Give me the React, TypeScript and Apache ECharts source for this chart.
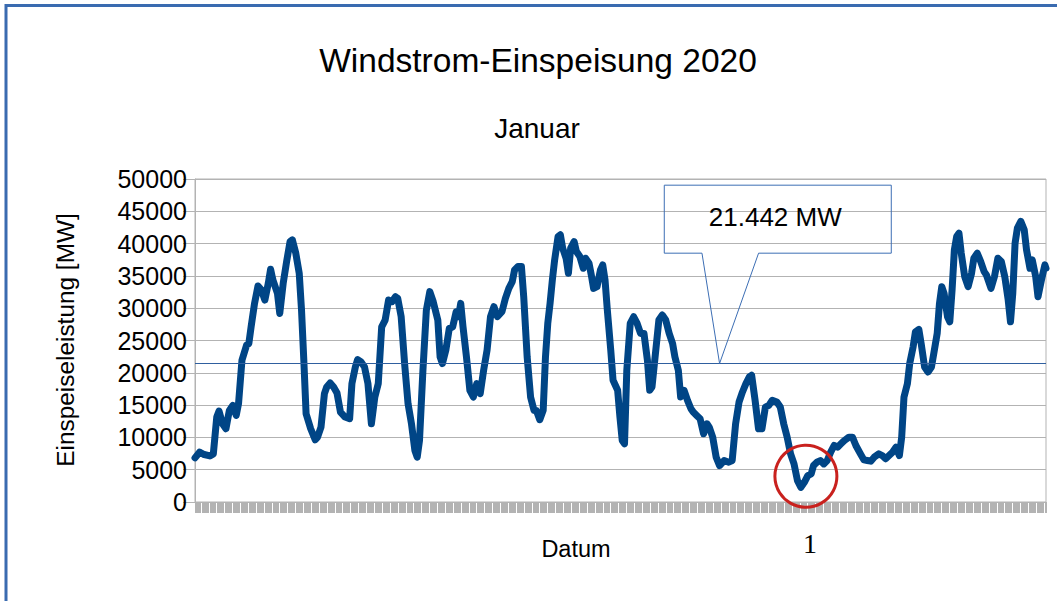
import { useEffect, useRef } from "react";
import * as echarts from "echarts";

// Hour of January 2020 (0 = 1 Jan 00:00) and wind power feed-in in MW
const hours = [
  0, 4, 8, 13, 16, 19, 21, 24, 27, 30, 33, 36, 38, 41, 45, 47, 49, 52, 55, 58, 61, 64, 66, 68, 72, 74, 77, 80, 83, 85,
  88, 91, 93, 95, 97, 101, 105, 107, 110, 113, 115, 118, 121, 124, 127, 131, 135, 137, 140, 142, 145, 148,
  151, 154, 157, 160, 163, 166, 169, 172, 175, 177, 180, 183, 186, 189, 192, 194, 196, 199, 202, 205, 208, 212, 214, 216,
  219, 222, 225, 228, 230, 232, 234, 237, 240, 243, 246, 249, 252, 255, 258, 261, 264, 268, 271, 274, 277, 279, 282, 285,
  287, 290, 293, 296,
  298, 301, 304, 306, 308, 310, 312, 314, 317, 319, 321, 324, 326, 328, 331, 333, 336, 339, 341, 344, 346, 348, 351, 354,
  356, 358, 360, 363, 365, 369, 371, 373, 375, 377, 380, 383, 386, 389, 392, 395, 397, 399, 402, 405, 408, 411, 414, 417,
  419, 422, 424, 427, 430, 433, 435, 438, 441, 444,
  447, 449, 452, 455, 458, 462, 466, 469, 472, 475, 478, 481, 484, 486, 489, 492, 495, 498, 501, 504, 508, 511, 514, 517,
  520, 523, 526, 529, 532, 535, 538, 540, 543, 546, 549, 552, 555, 558, 561, 564, 567, 571, 574, 577, 581, 584, 587, 590, 593,
  597, 600, 603, 606, 609, 612, 615, 617, 619, 622, 624, 627, 629, 632, 634, 637, 640, 643, 645, 648, 650, 652, 654, 657,
  659, 661, 663, 665, 667, 669, 672, 675, 678, 680, 683, 686, 689, 691, 695, 698, 701, 704, 707, 710, 712, 714, 716, 718,
  721, 724, 726, 729, 731, 734, 736, 739, 742, 743,
];

const power = [
  6830, 7710, 7350, 7140, 7450, 13150, 14080, 12110, 11340, 14180, 14960, 13400, 15220, 21950, 24280, 24530, 27120, 30750,
  33440, 32800, 31260, 33850, 36020, 34370, 32300, 29190, 33850, 37220, 40320, 40580, 38510, 35400, 29710, 21950, 13660,
  11340, 9630, 10040, 11590, 16770, 17800, 18430, 17800, 16870, 13920, 13150, 12890, 18320, 20910, 22050, 21690, 20910,
  18320, 12110, 16250, 18320, 27120, 28160, 31260, 31000, 31780, 31520, 28680, 21430, 15220, 12110, 7970, 6940, 9520,
  20390, 29710, 32560, 31000, 28160, 22460, 21430, 23500, 26860, 27120, 29450, 28680, 30750, 27120, 22460, 17290, 16250,
  18320, 16770, 20390, 23500, 28680, 30230, 28680, 29450, 31520, 33070, 34110, 35920, 36440, 36440, 31780, 22460, 16250,
  14180,
  14180, 12730, 14180, 22460, 27640, 30750, 34370, 37470, 41100, 41360, 39290, 37730, 35400, 39290, 40320, 38770, 37990,
  36180, 37730, 36960, 35140, 33070, 33330, 35920, 36700, 34370, 29710, 23500, 18840, 17290, 13150, 9520, 9010, 20390,
  27640, 28680, 27640, 26090, 26090, 21950, 17290, 17800, 22980, 28160, 28940, 28160, 26090, 24530, 22460, 20390, 16250,
  17290, 15740, 14440, 13920, 13400, 12890, 10560,
  12110, 11590, 10040, 6940, 5640, 6420, 6160, 6420, 12110, 15480, 17030, 18320, 19360, 19620, 15740, 11340, 11340, 14700,
  14960, 15740, 15480, 14700, 12110, 10040, 7450, 5900, 3310, 2280, 3050, 4090, 4350, 5640, 6160, 6420, 5900, 6420, 7710,
  8750, 8490, 9010, 9520, 10040, 10040, 8750, 7450, 6520, 6420, 6320, 6940,
  7450, 7190, 6680, 7190, 7710, 8490, 7190, 10040, 16250, 18320, 21430, 24020, 26350, 26710, 24530, 20910, 20130, 20910,
  22980, 26090, 30750, 33330, 32300, 28680, 27900, 32820, 39030, 41100, 41620, 38510, 34890, 33330, 35400, 37730, 38510,
  37220, 35660, 35140, 33070, 34890, 37730, 37220, 34890, 31260, 27900, 32300, 40060, 42390, 43430, 42130, 39030, 36180,
  37470, 34890, 31780, 34370, 36700, 36180,
];

const MEAN_MW = 21442;
const CALLOUT_HOUR = 458;
const TITLE = "Windstrom-Einspeisung 2020";
const SUBTITLE = "Januar";
const X_NAME = "Datum";
const Y_NAME = "Einspeiseleistung [MW]";
const MEAN_LABEL = "21.442 MW";
const MARKER_LABEL = "1";

const SANS = "'Liberation Sans', Arial, sans-serif";
const SERIF = "'Liberation Serif', 'Times New Roman', serif";

export default function App() {
  const ref = useRef<HTMLDivElement>(null);

  useEffect(() => {
    document.body.style.margin = "0";
    const chart = echarts.init(ref.current!, null, { renderer: "svg" });
    const data = hours.map((h, i) => [h, power[i]]);

    chart.setOption({
      animation: false,
      grid: {
        left: 195,
        right: 11,
        top: 179,
        bottom: 99,
        show: true,
        borderColor: "#b3b3b3",
        borderWidth: 1,
        backgroundColor: "transparent",
      },
      xAxis: {
        type: "value",
        min: 0,
        max: 743,
        interval: 1,
        axisLine: { show: true, lineStyle: { color: "#b3b3b3", width: 1 } },
        axisTick: { show: true, length: 11, lineStyle: { color: "#b3b3b3", width: 1 } },
        axisLabel: { show: false },
        splitLine: { show: false },
      },
      yAxis: {
        type: "value",
        min: 0,
        max: 50000,
        interval: 5000,
        axisLine: { show: true, lineStyle: { color: "#b3b3b3", width: 1 } },
        axisTick: { show: true, length: 12, lineStyle: { color: "#b3b3b3" } },
        axisLabel: {
          color: "#000",
          fontSize: 25,
          fontFamily: SANS,
          margin: 8,
          formatter: (v: number) => String(v),
        },
        splitLine: { show: true, lineStyle: { color: "#b3b3b3", width: 1 } },
      },
      series: [
        {
          type: "line",
          data,
          showSymbol: false,
          symbol: "none",
          lineStyle: { color: "#004586", width: 7, join: "round", cap: "round" },
          z: 3,
          markLine: {
            silent: true,
            symbol: "none",
            label: { show: false },
            lineStyle: { color: "#2f5f9f", width: 1, type: "solid" },
            data: [{ yAxis: MEAN_MW }],
          },
        },
      ],
    });

    const apex = chart.convertToPixel({ gridIndex: 0 }, [CALLOUT_HOUR, MEAN_MW]) as number[];
    let iMin = 0;
    power.forEach((v, i) => {
      if (v < power[iMin]) iMin = i;
    });
    const mp = chart.convertToPixel({ gridIndex: 0 }, [hours[iMin], power[iMin]]) as number[];
    const ax = apex[0];
    const ay = apex[1];

    const txt = (
      text: string,
      x: number,
      y: number,
      fontSize: number,
      extra: Record<string, unknown> = {},
      family = SANS
    ) => ({
      type: "text",
      x,
      y,
      silent: true,
      ...extra,
      style: {
        text,
        fill: "#000",
        fontSize,
        fontFamily: family,
        align: "center",
        verticalAlign: "middle",
        textAlign: "center",
        textVerticalAlign: "middle",
      },
    });

    chart.setOption({
      graphic: [
        {
          type: "rect",
          silent: true,
          shape: { x: 6, y: 5.5, width: 1200, height: 800 },
          style: { fill: "none", stroke: "#3a6bb0", lineWidth: 3 },
        },
        txt(TITLE, 538, 60, 33.5),
        txt(SUBTITLE, 537, 128, 28),
        txt(X_NAME, 576, 549, 23.5),
        txt(Y_NAME, 65, 340, 24.4, { rotation: Math.PI / 2 }),
        {
          type: "polygon",
          silent: true,
          shape: {
            points: [
              [ax - 55.3, ay - 178.3],
              [ax + 171.7, ay - 178.3],
              [ax + 171.7, ay - 110.3],
              [ax + 39, ay - 110.3],
              [ax, ay],
              [ax - 17.6, ay - 110.3],
              [ax - 55.3, ay - 110.3],
            ],
          },
          style: { fill: "none", stroke: "#3c6eb4", lineWidth: 1 },
          z: 10,
        },
        txt(MEAN_LABEL, ax + 55.7, ay - 146, 26, { z: 11 }),
        {
          type: "circle",
          silent: true,
          shape: { cx: mp[0] + 5, cy: mp[1] - 11, r: 31 },
          style: { fill: "none", stroke: "#c9211e", lineWidth: 3 },
          z: 12,
        },
        txt(MARKER_LABEL, mp[0] + 9, mp[1] + 56, 28, { z: 12 }, SERIF),
      ],
    });

    return () => chart.dispose();
  }, []);

  return <div ref={ref} style={{ width: 1057, height: 601 }} />;
}
